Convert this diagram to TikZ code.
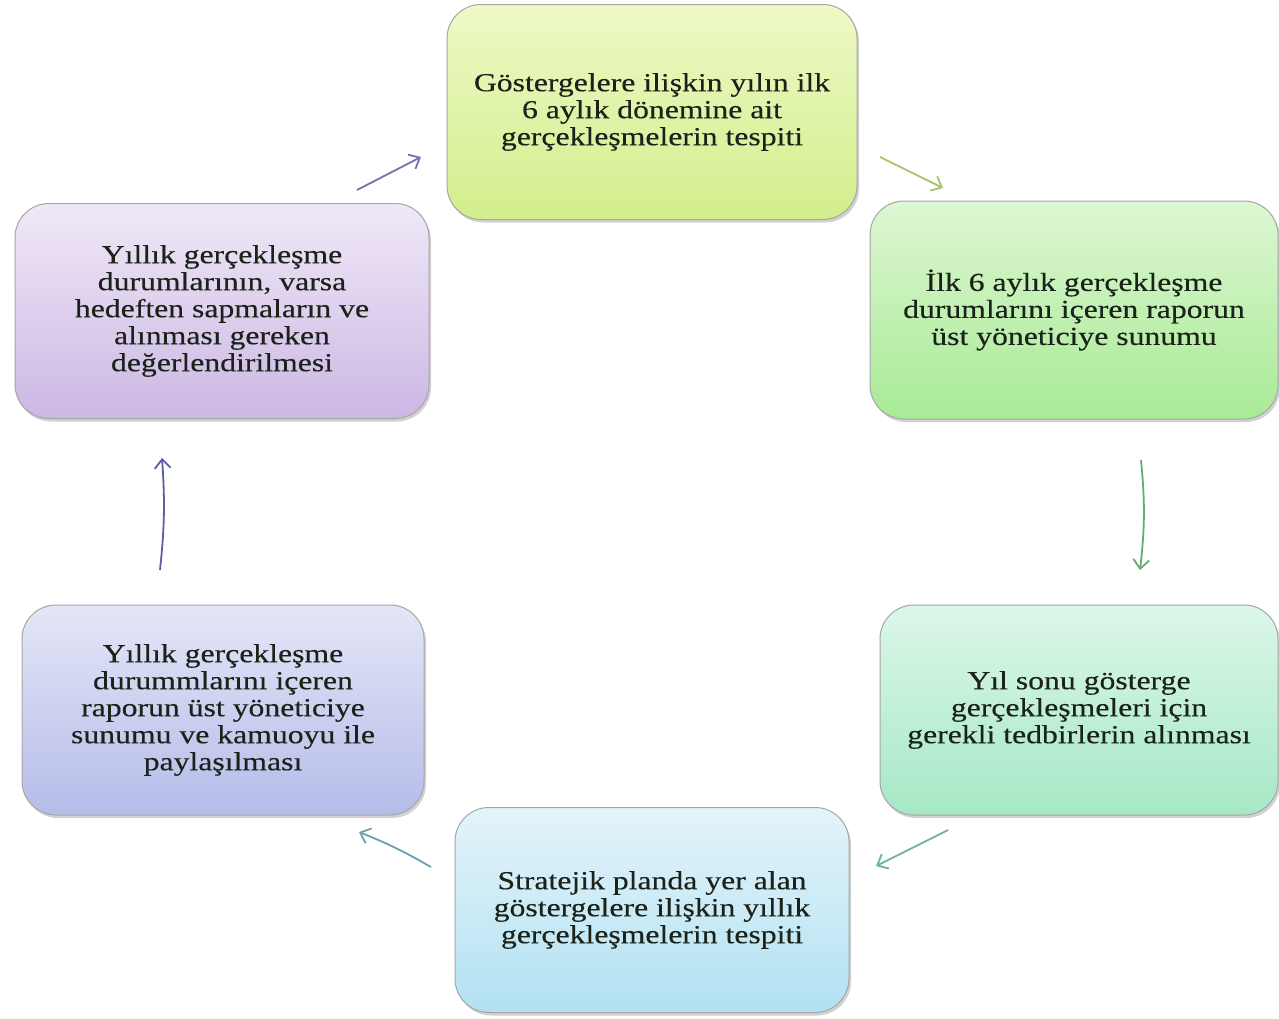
\documentclass[tikz,border=0pt]{standalone}
\usepackage{fontspec}
\setmainfont{Liberation Serif}[FakeStretch=1.22,FakeBold=0.3]
\usetikzlibrary{arrows.meta,shadows}
\definecolor{t1a}{HTML}{EEF9C6}\definecolor{t1b}{HTML}{D2EE8C}
\definecolor{t2a}{HTML}{DDF7D2}\definecolor{t2b}{HTML}{A8EA96}
\definecolor{t3a}{HTML}{DCF7E8}\definecolor{t3b}{HTML}{A6E8C6}
\definecolor{t4a}{HTML}{E4F4FB}\definecolor{t4b}{HTML}{B2E1F2}
\definecolor{t5a}{HTML}{E4E6F7}\definecolor{t5b}{HTML}{B5BCE9}
\definecolor{t6a}{HTML}{F0E8F7}\definecolor{t6b}{HTML}{CCB8E4}
\definecolor{a1}{HTML}{7A70AA}\definecolor{a2}{HTML}{A8C46C}
\definecolor{a3}{HTML}{62AE6C}\definecolor{a4}{HTML}{6AB3A0}
\definecolor{a5}{HTML}{6C9FB2}\definecolor{a6}{HTML}{5C609E}
\definecolor{txt}{HTML}{1A221A}
\tikzset{
  box/.style={draw=gray!70, line width=1pt, rounded corners=34pt, align=center,
    text=txt, font=\fontsize{26}{27}\selectfont,
    drop shadow={shadow xshift=2pt, shadow yshift=-3pt, fill=black, opacity=0.18}},
  conn/.style={line width=1.8pt, -{Straight Barb[length=9pt,width=16pt,line width=1.8pt]}},
}
\begin{document}
\begin{tikzpicture}[x=1pt,y=-1pt]
\useasboundingbox (0,0) rectangle (1279,1018);
\fill[white] (0,0) rectangle (1279,1018);
\node[box, top color=t1a, bottom color=t1b, minimum width=410pt, minimum height=215pt] (b1) at (652,112)
  {Göstergelere ilişkin yılın ilk\\6 aylık dönemine ait\\gerçekleşmelerin tespiti};
\node[box, top color=t2a, bottom color=t2b, minimum width=408pt, minimum height=218pt] (b2) at (1074,310)
  {İlk 6 aylık gerçekleşme\\durumlarını içeren raporun\\üst yöneticiye sunumu};
\node[box, top color=t3a, bottom color=t3b, minimum width=398pt, minimum height=210pt] (b3) at (1079,710)
  {Yıl sonu gösterge\\gerçekleşmeleri için\\gerekli tedbirlerin alınması};
\node[box, top color=t4a, bottom color=t4b, minimum width=394pt, minimum height=205pt] (b4) at (652,910)
  {Stratejik planda yer alan\\göstergelere ilişkin yıllık\\gerçekleşmelerin tespiti};
\node[box, top color=t5a, bottom color=t5b, minimum width=402pt, minimum height=210pt] (b5) at (223,710)
  {Yıllık gerçekleşme\\durummlarını içeren\\raporun üst yöneticiye\\sunumu ve kamuoyu ile\\paylaşılması};
\node[box, top color=t6a, bottom color=t6b, minimum width=414pt, minimum height=215pt] (b6) at (222,311)
  {Yıllık gerçekleşme\\durumlarının, varsa\\hedeften sapmaların ve\\alınması gereken\\değerlendirilmesi};
% arrow end points
\coordinate (p1s) at (357,190); \coordinate (p1e) at (421,157);
\coordinate (p2s) at (880,157); \coordinate (p2e) at (943,188);
\coordinate (p3s) at (1141,460); \coordinate (p3e) at (1140,570);
\coordinate (p4s) at (948,830); \coordinate (p4e) at (876,866);
\coordinate (p5s) at (431,867); \coordinate (p5e) at (359,832);
\coordinate (p6s) at (160,570); \coordinate (p6e) at (162,458);
\draw[conn, a1] (p1s) -- (p1e);
\draw[conn, a2] (p2s) -- (p2e);
\draw[conn, a3] (p3s) to[bend left=6] (p3e);
\draw[conn, a4] (p4s) -- (p4e);
\draw[conn, a5] (p5s) to[bend right=4] (p5e);
\draw[conn, a6] (p6s) to[bend right=5] (p6e);
\end{tikzpicture}
\end{document}
